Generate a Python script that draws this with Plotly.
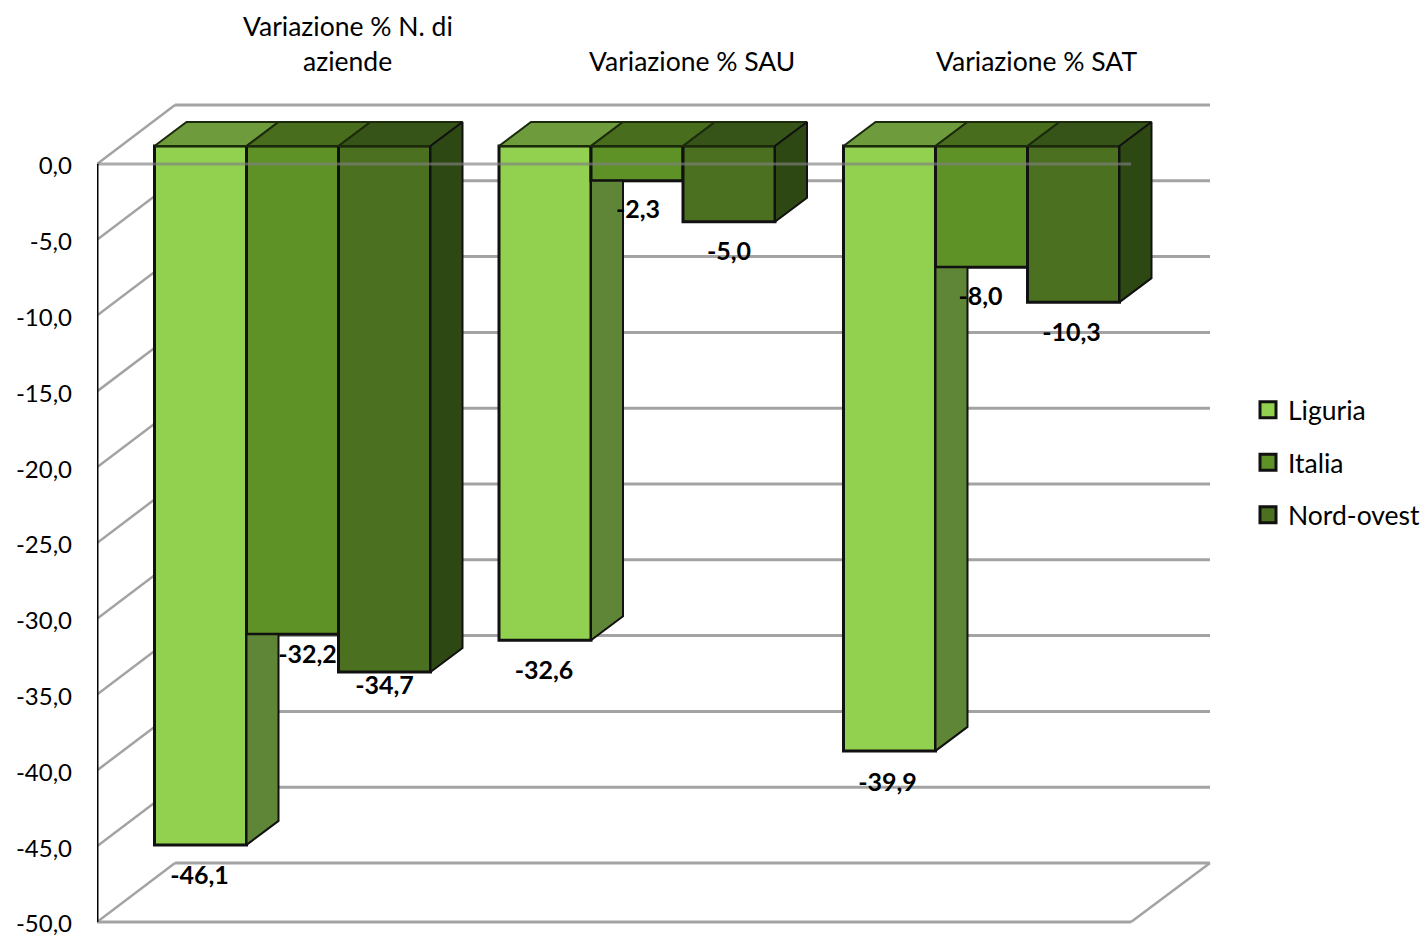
import plotly.graph_objects as go

CATEGORY_LINES = [["Variazione % N. di", "aziende"], ["Variazione % SAU"], ["Variazione % SAT"]]
SERIES_NAMES = ["Liguria", "Italia", "Nord-ovest"]
LIGURIA = [-46.1, -32.6, -39.9]
ITALIA = [-32.2, -2.3, -8.0]
NORD_OVEST = [-34.7, -5.0, -10.3]
TICK_VALUES = [0, -5, -10, -15, -20, -25, -30, -35, -40, -45, -50]
TICK_LABELS = ["0,0", "-5,0", "-10,0", "-15,0", "-20,0", "-25,0", "-30,0", "-35,0", "-40,0", "-45,0", "-50,0"]
DATA_LABELS = [["-46,1", "-32,6", "-39,9"], ["-32,2", "-2,3", "-8,0"], ["-34,7", "-5,0", "-10,3"]]

SERIES = [LIGURIA, ITALIA, NORD_OVEST]
FRONT = ["#92D050", "#5F9226", "#4A7020"]
TOP = ["#6E9C3C", "#476D1D", "#365417"]
SIDE = ["#5E8636", "#456A1C", "#2D4812"]
EDGE = "#111111"
GRID = "#A3A3A3"
FONT = "Lato"

W, H = 1423, 950  # taller than the 935 window so that the -50,0 tick label is kept; the page clips the rest
PX_PER_UNIT = 15.16
PX_PER_CAT = 344.5
Y0_PX, X0_PX, LEFT = 164, 292.5, 97


def ux(px):
    return (px - X0_PX) / PX_PER_CAT


def uy(px):
    return (Y0_PX - px) / PX_PER_UNIT


BAR_W = 92 / PX_PER_CAT
SHIFT = uy(146)
DEPTH_X, DEPTH_Y = 32 / PX_PER_CAT, 24 / PX_PER_UNIT
WALL_X0, WALL_X1, FLOOR_X1 = ux(175), ux(1210), ux(1131)
AXIS_X = ux(LEFT)
WALL_DY = 59 / PX_PER_UNIT

# label nudges from the bar centre / bar end, in pixels (series, category)
LABEL_DX = [[-1, -1, -2], [15, 1, -1], [0, 0, -2]]
LABEL_PY = [[878, 673, 785], [657, 212, 299], [688, 254, 335]]

fig = go.Figure()

for s, vals in enumerate(SERIES):
    fig.add_bar(
        x=[0, 1, 2], y=vals, base=SHIFT, width=BAR_W, offset=(s - 1.5) * BAR_W,
        marker=dict(color=FRONT[s], line=dict(color=EDGE, width=3)),
        showlegend=False, hoverinfo="skip",
    )

for c in range(3):
    for s, vals in enumerate(SERIES):
        xl = c + (s - 1.5) * BAR_W
        xr = xl + BAR_W
        top = SHIFT
        bot = vals[c] + SHIFT
        fig.add_scatter(
            x=[xl, xr, xr + DEPTH_X, xl + DEPTH_X, xl],
            y=[top, top, top + DEPTH_Y, top + DEPTH_Y, top],
            mode="lines", fill="toself", fillcolor=TOP[s],
            line=dict(color="#1c2a0c", width=2), showlegend=False, hoverinfo="skip",
        )
        next_bot = SERIES[s + 1][c] + SHIFT if s < 2 else None
        if next_bot is None:
            upper_l, upper_r = top, top + DEPTH_Y
        elif next_bot > bot + DEPTH_Y:
            upper_l, upper_r = next_bot, next_bot
        else:
            continue
        fig.add_scatter(
            x=[xr, xr + DEPTH_X, xr + DEPTH_X, xr, xr],
            y=[bot, bot + DEPTH_Y, upper_r, upper_l, bot],
            mode="lines", fill="toself", fillcolor=SIDE[s],
            line=dict(color=EDGE, width=2), showlegend=False, hoverinfo="skip",
        )

for s, name in enumerate(SERIES_NAMES):
    fig.add_scatter(
        x=[None], y=[None], mode="markers", name=name, legendgroup=name,
        marker=dict(symbol="square", size=16, color=FRONT[s], line=dict(color=EDGE, width=3)),
    )

for s, vals in enumerate(SERIES):
    fig.add_scatter(
        x=[c + (s - 1) * BAR_W + LABEL_DX[s][c] / PX_PER_CAT for c in range(3)],
        y=[uy(p) for p in LABEL_PY[s]],
        mode="text", text=[f"<b>{t}</b>" for t in DATA_LABELS[s]],
        textposition="middle center",
        textfont=dict(family=FONT, size=25, color="black"),
        showlegend=False, hoverinfo="skip",
    )

shapes = []
line = dict(color=GRID, width=3)
diag = dict(color=GRID, width=2.5)
for v in TICK_VALUES:
    shapes.append(dict(type="line", layer="below", xref="x", yref="y", x0=WALL_X0, x1=WALL_X1,
                       y0=v + WALL_DY, y1=v + WALL_DY, line=line))
    shapes.append(dict(type="line", layer="below", xref="x", yref="y", x0=AXIS_X, x1=WALL_X0,
                       y0=v, y1=v + WALL_DY, line=diag))
bottom = TICK_VALUES[-1]
shapes.append(dict(type="line", layer="below", xref="x", yref="y", x0=AXIS_X, x1=FLOOR_X1,
                   y0=bottom, y1=bottom, line=line))
shapes.append(dict(type="line", layer="below", xref="x", yref="y", x0=FLOOR_X1, x1=WALL_X1,
                   y0=bottom, y1=bottom + WALL_DY, line=diag))
shapes.append(dict(type="line", layer="above", xref="x", yref="y", x0=AXIS_X, x1=FLOOR_X1,
                   y0=0, y1=0, line=dict(color="rgba(128,128,128,0.65)", width=3)))
shapes.append(dict(type="line", layer="above", xref="x", yref="y", x0=AXIS_X, x1=AXIS_X,
                   y0=0, y1=bottom, line=dict(color="black", width=3)))

annotations = []
for c, lines in enumerate(CATEGORY_LINES):
    for k, text in enumerate(reversed(lines)):
        annotations.append(dict(
            x=c + 55 / PX_PER_CAT, y=uy(61 - 35 * k), xref="x", yref="y", text=text, showarrow=False,
            xanchor="center", yanchor="middle", font=dict(family=FONT, size=26.5, color="black"),
        ))

fig.update_layout(
    width=W, height=H, autosize=False,
    margin=dict(l=LEFT, r=0, t=0, b=0, autoexpand=False),
    paper_bgcolor="white", plot_bgcolor="white",
    barmode="overlay", shapes=shapes, annotations=annotations,
    font=dict(family=FONT, size=24, color="black"),
    xaxis=dict(range=[ux(LEFT), ux(W)], visible=False, fixedrange=True),
    yaxis=dict(range=[uy(H), uy(0)], tickmode="array", tickvals=TICK_VALUES, ticktext=TICK_LABELS,
               showgrid=False, zeroline=False, showline=False, ticks="", ticklabelstandoff=24,
               ticklabelshift=2,
               tickfont=dict(family=FONT, size=24, color="black"), fixedrange=True),
    legend=dict(x=(1248 - LEFT) / (W - LEFT), y=1 - 386 / H,
                xanchor="left", yanchor="top", traceorder="grouped", tracegroupgap=15,
                itemwidth=30, font=dict(family=FONT, size=26.5, color="black"),
                bgcolor="rgba(0,0,0,0)"),
)

fig.write_html("out.html", config=dict(displayModeBar=False),
               post_script="document.body.style.margin='0';document.documentElement.style.overflow='hidden';")
